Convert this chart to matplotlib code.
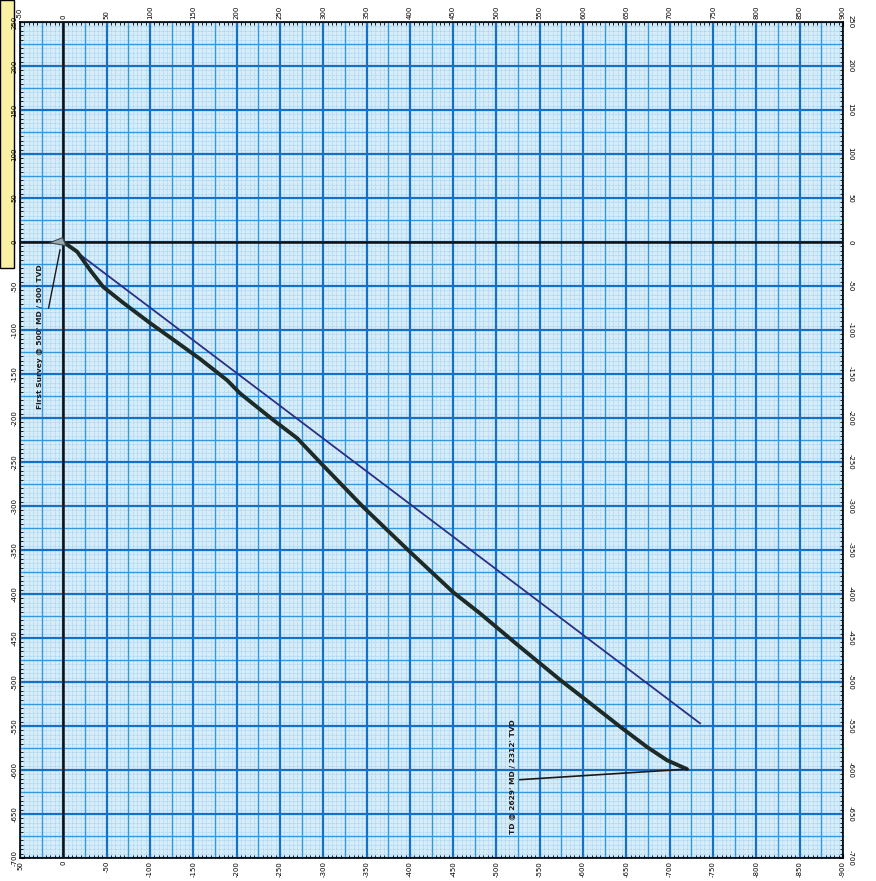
import numpy as np
import matplotlib
matplotlib.use("Agg")
import matplotlib.pyplot as plt
from matplotlib.patches import Rectangle, Polygon

# ---- data ----
actual_x = [0, 16, 31, 46, 69, 100, 127, 158, 189, 204, 242, 270, 297, 346, 400, 450, 481, 527, 574, 608, 643, 674, 697, 720]
actual_y = [0, -11, -32, -51, -69, -92, -111, -133, -157, -172, -202, -223, -251, -301, -352, -398, -422, -460, -498, -524, -551, -574, -589, -599]
plan_x = [0, 735]
plan_y = [0, -547]
survey_marker_x = [-16, -1, 3]
survey_marker_y = [-1, 5, -4]

x_ticks = list(range(-50, 901, 50))
top_labels = [str(v) for v in x_ticks]
bottom_labels = [str(-v) for v in x_ticks]
y_ticks = list(range(-700, 251, 50))
left_labels = [str(v) for v in y_ticks]
right_labels = [str(v) for v in y_ticks]

first_label = "First Survey @ 500' MD / 500' TVD"
first_text_xy = (-27, -108)
first_arrow = ((-17, -75), (-3.8, -9))
td_label = "TD @ 2629' MD / 2312' TVD"
td_text_xy = (519, -607)
td_arrow = ((527, -611), (720, -599))

# ---- figure ----
W, H = 876, 881
fig = plt.figure(figsize=(W / 100, H / 100), dpi=100)
fig.patch.set_facecolor("white")
ax = fig.add_axes([20 / W, 1 - 858 / H, (843 - 20) / W, (858 - 22) / H])
ax.set_xlim(-50, 900)
ax.set_ylim(-700, 250)
ax.set_facecolor("#d6edf9")

# yellow box partly off page
fig.patches.append(Rectangle((0, 1 - 268 / H), 14 / W, 268 / H, transform=fig.transFigure,
                             facecolor="#fbf1a4", edgecolor="black", linewidth=1.0, zorder=-5))

# grid: fine (5), mid (25), major (50)
for v in np.arange(-50, 901, 5):
    if v % 25:
        ax.axvline(v, color="#93c9ec", lw=0.5, ls=(0, (1, 1)), zorder=1)
for v in np.arange(-700, 251, 5):
    if v % 25:
        ax.axhline(v, color="#93c9ec", lw=0.5, ls=(0, (1, 1)), zorder=1)
for v in np.arange(-50, 901, 25):
    if v % 50:
        ax.axvline(v, color="#3398dc", lw=1.0, zorder=2)
for v in np.arange(-700, 251, 25):
    if v % 50:
        ax.axhline(v, color="#3398dc", lw=1.0, zorder=2)
for v in x_ticks:
    ax.axvline(v, color="#1570c8", lw=1.6, zorder=2)
for v in y_ticks:
    ax.axhline(v, color="#1570c8", lw=1.6, zorder=2)

ax.axvline(0, color="#111111", lw=1.8, zorder=3)
ax.axhline(0, color="#111111", lw=1.8, zorder=3)

# lines
ax.plot(plan_x, plan_y, color="#2b2f86", lw=1.3, zorder=4)
ax.plot(actual_x, actual_y, color="#1d2a25", lw=2.8, zorder=5, solid_capstyle="round")
ax.add_patch(Polygon(list(zip(survey_marker_x, survey_marker_y)), closed=True,
                     facecolor="#9aa9b0", edgecolor="#3a4a50", lw=0.8, zorder=6))

# annotations
ax.plot([first_arrow[0][0], first_arrow[1][0]], [first_arrow[0][1], first_arrow[1][1]],
        color="#1a1a1a", lw=1.0, zorder=6)
ax.text(*first_text_xy, first_label, rotation=90, fontsize=5.4, fontweight="bold",
        ha="center", va="center", color="#1a1a1a", zorder=7)
ax.plot([td_arrow[0][0], td_arrow[1][0]], [td_arrow[0][1], td_arrow[1][1]],
        color="#1a1a1a", lw=1.2, zorder=6)
ax.text(*td_text_xy, td_label, rotation=90, fontsize=5.4, fontweight="bold",
        ha="center", va="center", color="#1a1a1a", zorder=7)

# ticks and labels
ax.set_xticks(x_ticks)
ax.set_xticklabels(bottom_labels, rotation=90, fontsize=5)
ax.set_yticks(y_ticks)
ax.set_yticklabels(left_labels, rotation=90, fontsize=5, va="center")
ax.set_xticks(np.arange(-50, 901, 5), minor=True)
ax.set_yticks(np.arange(-700, 251, 5), minor=True)
ax.tick_params(which="both", direction="in", top=True, right=True, color="black")
ax.tick_params(which="major", length=3, width=0.8, pad=2)
ax.tick_params(which="minor", length=2, width=0.6)

secx = ax.secondary_xaxis("top")
secx.set_xticks(x_ticks)
secx.set_xticklabels(top_labels, rotation=90, fontsize=5)
secx.tick_params(length=0, pad=2)
secy = ax.secondary_yaxis("right")
secy.set_yticks(y_ticks)
secy.set_yticklabels(right_labels, rotation=270, fontsize=5, va="center")
secy.tick_params(length=0, pad=3)

for s in ax.spines.values():
    s.set_color("black")
    s.set_linewidth(1.2)
for sa in (secx, secy):
    for s in sa.spines.values():
        s.set_visible(False)

fig.savefig("out.png", dpi=100)
